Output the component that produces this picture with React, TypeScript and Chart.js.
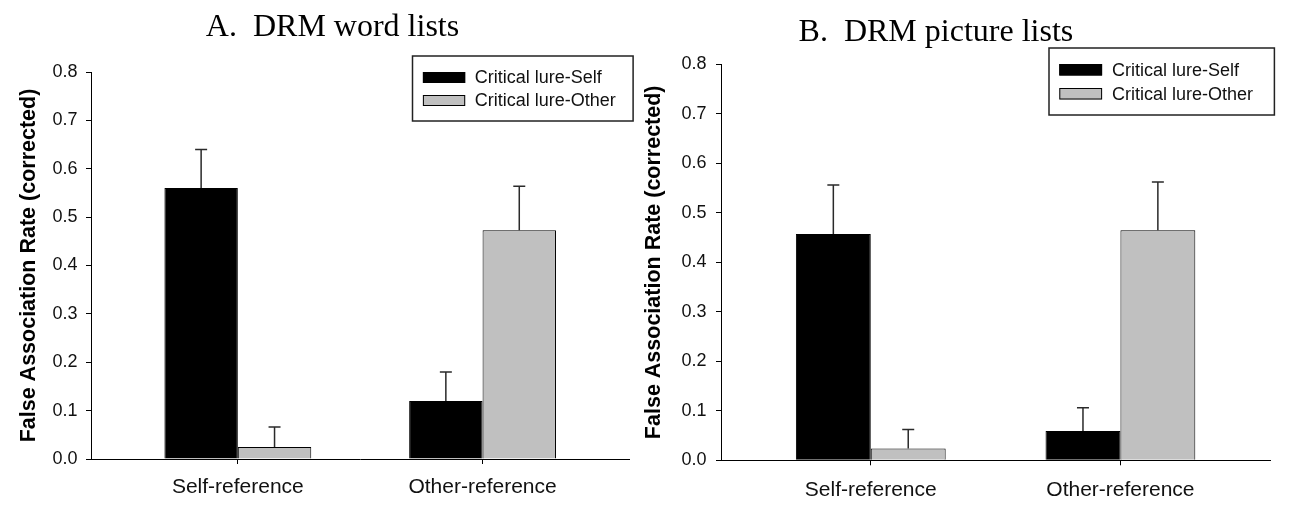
import React, { useEffect, useRef } from 'react';
import { Chart, registerables } from 'chart.js';

Chart.register(...registerables);

// ---------- data ----------
const categories = ['Self-reference', 'Other-reference'];
const seriesLabels = ['Critical lure-Self', 'Critical lure-Other'];
const seriesColors = ['#000000', '#c0c0c0'];
const yTickValues = [0, 0.1, 0.2, 0.3, 0.4, 0.5, 0.6, 0.7, 0.8];
const yAxisTitle = 'False Association Rate (corrected)';

const wordTitle = 'A.  DRM word lists';
const wordSelf = [0.56, 0.12];
const wordSelfErr = [0.08, 0.06];
const wordOther = [0.025, 0.473];
const wordOtherErr = [0.041, 0.091];

const pictureTitle = 'B.  DRM picture lists';
const pictureSelf = [0.457, 0.059];
const pictureSelfErr = [0.099, 0.047];
const pictureOther = [0.024, 0.465];
const pictureOtherErr = [0.038, 0.097];

// ---------- layout / style ----------
const SANS = "'Liberation Sans', Arial, sans-serif";
const SERIF = "'Liberation Serif', 'Times New Roman', serif";

const layoutA = {
  left: 0, width: 640, yWidth: 91, top: 72, right: 10.6, xHeight: 49,
  yTitlePad: 16, yTickPad: 8.5, xTickPad: 11, titleX: 332.5, titleY: 36,
  legend: { x: 412.5, y: 56, w: 220.6, h: 65, swX: 422.9, swW: 42.3, swTops: [72, 95], swH: 11, textX: 474.7 },
};
const layoutB = {
  left: 640, width: 651, yWidth: 81, top: 64.3, right: 20.8, xHeight: 47.7,
  yTitlePad: 1.6, yTickPad: 9.5, xTickPad: 12, titleX: 295.9, titleY: 41,
  legend: { x: 409, y: 48, w: 225.4, h: 67, swX: 419.3, swW: 42.8, swTops: [64, 88], swH: 11.5, textX: 472 },
};

type PanelProps = {
  title: string;
  values: number[][];
  errors: number[][];
  layout: typeof layoutA;
};

function Panel({ title, values, errors, layout }: PanelProps) {
  const ref = useRef<HTMLCanvasElement>(null);

  useEffect(() => {
    const canvas = ref.current;
    if (!canvas) return;

    const errorBars = {
      id: 'errorBars',
      afterDatasetsDraw(chart: any) {
        const ctx = chart.ctx;
        const yScale = chart.scales.y;
        ctx.save();
        ctx.strokeStyle = '#2a2a2a';
        ctx.lineWidth = 1.5;
        chart.data.datasets.forEach((ds: any, di: number) => {
          const meta = chart.getDatasetMeta(di);
          meta.data.forEach((bar: any, i: number) => {
            const v = ds.data[i].y;
            const e = errors[di][i];
            const x = bar.x;
            const yTop = yScale.getPixelForValue(v + e);
            ctx.beginPath();
            ctx.moveTo(x, bar.y);
            ctx.lineTo(x, yTop);
            ctx.moveTo(x - 6, yTop);
            ctx.lineTo(x + 6, yTop);
            ctx.stroke();
          });
        });
        ctx.restore();
      },
    };

    const legendBox = {
      id: 'legendBox',
      afterDraw(chart: any) {
        const ctx = chart.ctx;
        const L = layout.legend;
        ctx.save();
        ctx.strokeStyle = '#222';
        ctx.lineWidth = 1.5;
        ctx.strokeRect(L.x, L.y, L.w, L.h);
        chart.data.datasets.forEach((ds: any, i: number) => {
          const top = L.swTops[i];
          ctx.fillStyle = ds.backgroundColor;
          ctx.fillRect(L.swX, top, L.swW, L.swH);
          ctx.lineWidth = 1;
          ctx.strokeStyle = '#000';
          ctx.strokeRect(L.swX + 0.5, top + 0.5, L.swW - 1, L.swH - 1);
          ctx.fillStyle = '#111';
          ctx.font = `18px ${SANS}`;
          ctx.textAlign = 'left';
          ctx.textBaseline = 'middle';
          ctx.fillText(ds.label, L.textX, top + L.swH / 2 + 1);
        });
        ctx.restore();
      },
    };

    const panelTitle = {
      id: 'panelTitle',
      afterDraw(chart: any) {
        const ctx = chart.ctx;
        ctx.save();
        ctx.fillStyle = '#000';
        ctx.font = `32px ${SERIF}`;
        ctx.textAlign = 'center';
        ctx.textBaseline = 'alphabetic';
        ctx.fillText(title, layout.titleX, layout.titleY);
        ctx.restore();
      },
    };

    const chart = new Chart(canvas, {
      type: 'bar',
      data: {
        datasets: seriesLabels.map((label, si) => ({
          label,
          data: categories.map((_, ci) => ({ x: ci + 1, y: values[si][ci] })),
          backgroundColor: seriesColors[si],
          borderColor: '#000',
          borderWidth: 1,
          categoryPercentage: 0.6,
          barPercentage: 1,
        })),
      } as any,
      options: {
        responsive: false,
        animation: false,
        layout: { padding: { left: 0, top: layout.top, right: layout.right, bottom: 0 } },
        plugins: {
          legend: { display: false },
          title: { display: false },
          tooltip: { enabled: false },
        },
        scales: {
          x: {
            type: 'linear',
            min: 0.4,
            max: 2.6,
            offset: false,
            afterBuildTicks: (s: any) => {
              s.ticks = categories.map((_, i) => ({ value: i + 1 }));
            },
            afterFit: (s: any) => {
              s.height = layout.xHeight;
            },
            ticks: {
              callback: (v: any) => categories[Math.round(Number(v)) - 1] ?? '',
              autoSkip: false,
              maxRotation: 0,
              minRotation: 0,
              padding: layout.xTickPad,
              color: '#111',
              font: { family: SANS, size: 21 },
            },
            grid: { display: true, drawOnChartArea: false, drawTicks: true, tickLength: 5, color: '#000', offset: false },
            border: { display: true, color: '#000', width: 1 },
          },
          y: {
            min: 0,
            max: 0.8,
            afterBuildTicks: (s: any) => {
              s.ticks = yTickValues.map((v) => ({ value: v }));
            },
            afterFit: (s: any) => {
              s.width = layout.yWidth;
            },
            ticks: {
              callback: (v: any) => Number(v).toFixed(1),
              padding: layout.yTickPad,
              color: '#111',
              font: { family: SANS, size: 18 },
            },
            grid: { display: true, drawOnChartArea: false, drawTicks: true, tickLength: 5, color: '#000' },
            border: { display: true, color: '#000', width: 1 },
            title: {
              display: true,
              text: yAxisTitle,
              color: '#000',
              font: { family: SANS, size: 21.5, weight: 'bold' },
              padding: { top: layout.yTitlePad, bottom: 0 },
            },
          },
        },
      } as any,
      plugins: [errorBars, legendBox, panelTitle],
    });

    return () => chart.destroy();
  }, [title, values, errors, layout]);

  return (
    <canvas
      ref={ref}
      width={layout.width}
      height={508}
      style={{ position: 'absolute', left: layout.left, top: 0, width: layout.width, height: 508 }}
    />
  );
}

const wordValues = [wordSelf, wordOther];
const wordErrors = [wordSelfErr, wordOtherErr];
const pictureValues = [pictureSelf, pictureOther];
const pictureErrors = [pictureSelfErr, pictureOtherErr];

export default function App() {
  return (
    <div style={{ position: 'absolute', left: 0, top: 0, width: 1291, height: 508, background: '#fff' }}>
      <Panel title={wordTitle} values={wordValues} errors={wordErrors} layout={layoutA} />
      <Panel title={pictureTitle} values={pictureValues} errors={pictureErrors} layout={layoutB} />
    </div>
  );
}
